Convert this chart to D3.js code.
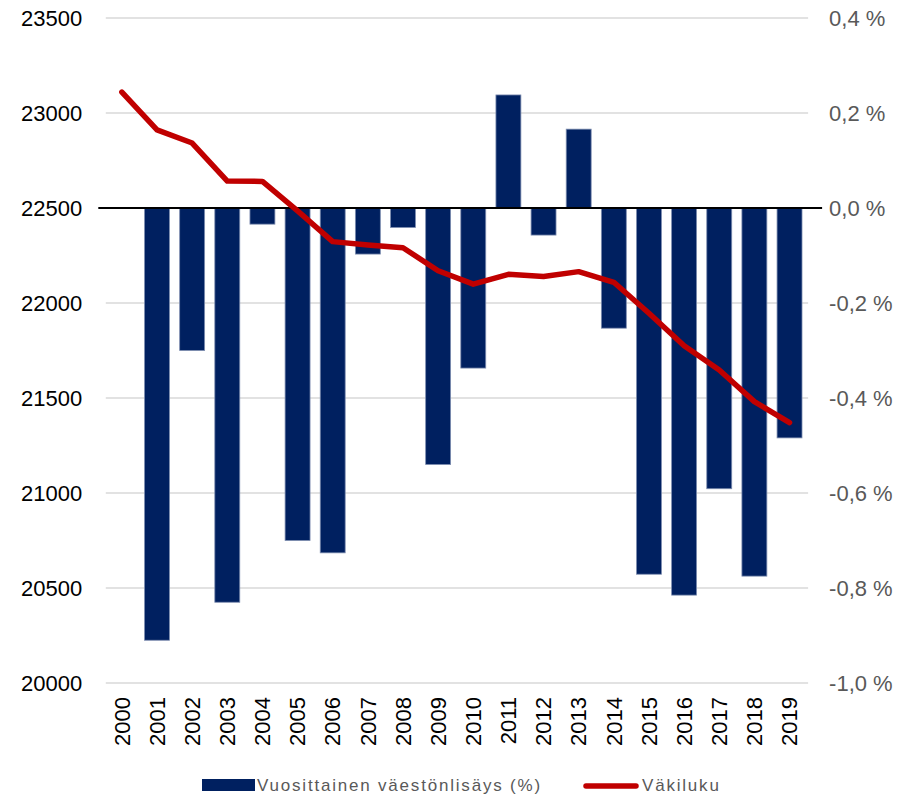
<!DOCTYPE html>
<html>
<head>
<meta charset="utf-8">
<script src="https://cdn.jsdelivr.net/npm/d3@7"></script>
<style>
  body { margin: 0; background: #fff; }
  svg { display: block; }
  text { font-family: "Liberation Sans", Arial, sans-serif; }
</style>
</head>
<body>
<div id="chart"></div>
<script>
// data
const years = ["2000", "2001", "2002", "2003", "2004", "2005", "2006", "2007", "2008", "2009",
               "2010", "2011", "2012", "2013", "2014", "2015", "2016", "2017", "2018", "2019"];
const growth = [null, -0.91, -0.30, -0.83, -0.034, -0.70, -0.726, -0.097, -0.041, -0.54,
                -0.337, 0.238, -0.057, 0.166, -0.253, -0.771, -0.815, -0.591, -0.775, -0.484];
const population = [23110, 22911, 22842, 22642, 22640, 22485, 22323, 22305, 22291, 22170,
                    22099, 22151, 22139, 22165, 22109, 21946, 21775, 21647, 21481, 21370];
const leftTicks = [20000, 20500, 21000, 21500, 22000, 22500, 23000, 23500];
const rightTicks = [-1.0, -0.8, -0.6, -0.4, -0.2, 0.0, 0.2, 0.4];
const barLabel = "Vuosittainen väestönlisäys (%)";
const lineLabel = "Väkiluku";

const width = 902, height = 796;
const plotLeft = 104.3, plotRight = 807.1, plotTop = 18, plotBottom = 683;

const svg = d3.select("#chart")
    .append("svg")
    .attr("width", width)
    .attr("height", height);

const x = d3.scaleBand()
    .domain(years)
    .range([plotLeft, plotRight])
    .paddingInner(0.29)
    .paddingOuter(0.145);

const yL = d3.scaleLinear().domain([20000, 23500]).range([plotBottom, plotTop]);
const yR = d3.scaleLinear().domain([-1.0, 0.4]).range([plotBottom, plotTop]);

// gridlines
svg.append("g")
    .selectAll("line")
    .data(rightTicks.filter(d => d !== 0))
    .enter()
    .append("line")
    .attr("x1", plotLeft + 1.5)
    .attr("x2", plotRight + 1)
    .attr("y1", d => yR(d))
    .attr("y2", d => yR(d))
    .attr("stroke", "#d9d9d9")
    .attr("stroke-width", 1.5);

// left axis
const axL = svg.append("g")
    .attr("transform", `translate(${plotLeft - 22},0)`)
    .call(d3.axisLeft(yL).tickValues(leftTicks).tickSize(0).tickPadding(0).tickFormat(d3.format("d")));
axL.select(".domain").remove();
axL.selectAll("text")
    .attr("font-size", 22)
    .attr("fill", "#000")
    .style("font-family", "Liberation Sans, Arial, sans-serif");

// right axis
const axR = svg.append("g")
    .attr("transform", `translate(${plotRight + 22},0)`)
    .call(d3.axisRight(yR).tickValues(rightTicks).tickSize(0).tickPadding(0)
        .tickFormat(d => d3.format(".1f")(d).replace("−", "-").replace(".", ",") + " %"));
axR.select(".domain").remove();
axR.selectAll("text")
    .attr("font-size", 22)
    .attr("fill", "#595959")
    .style("font-family", "Liberation Sans, Arial, sans-serif");

// bars
svg.append("g")
    .selectAll("rect")
    .data(years.map((y, i) => ({ year: y, value: growth[i] })).filter(d => d.value !== null))
    .enter()
    .append("rect")
    .attr("x", d => x(d.year))
    .attr("y", d => yR(Math.max(0, d.value)))
    .attr("width", x.bandwidth())
    .attr("height", d => Math.abs(yR(d.value) - yR(0)))
    .attr("fill", "#002060")
    .attr("stroke", "#7d8db0")
    .attr("stroke-width", 0.8);

// zero line
svg.append("line")
    .attr("x1", plotLeft - 6)
    .attr("x2", plotRight + 15)
    .attr("y1", yR(0))
    .attr("y2", yR(0))
    .attr("stroke", "#000")
    .attr("stroke-width", 2);

// population line
const line = d3.line()
    .x((d, i) => x(years[i]) + x.bandwidth() / 2)
    .y(d => yL(d));

svg.append("path")
    .datum(population)
    .attr("fill", "none")
    .attr("stroke", "#c00000")
    .attr("stroke-width", 5.5)
    .attr("stroke-linejoin", "round")
    .attr("stroke-linecap", "round")
    .attr("d", line);

// x labels (rotated)
svg.append("g")
    .selectAll("text")
    .data(years)
    .enter()
    .append("text")
    .attr("transform", d => `translate(${x(d) + x.bandwidth() / 2},697) rotate(-90)`)
    .attr("dy", "0.35em")
    .attr("text-anchor", "end")
    .attr("font-size", 22)
    .attr("fill", "#000")
    .text(d => d);

// legend
const leg = svg.append("g");
leg.append("rect")
    .attr("x", 202).attr("y", 779)
    .attr("width", 53).attr("height", 12)
    .attr("fill", "#002060");
leg.append("text")
    .attr("x", 257).attr("y", 791)
    .attr("font-size", 17)
    .attr("letter-spacing", "1.8px")
    .attr("fill", "#595959")
    .text(barLabel);
leg.append("line")
    .attr("x1", 586).attr("x2", 636)
    .attr("y1", 786).attr("y2", 786)
    .attr("stroke", "#c00000")
    .attr("stroke-width", 5.5)
    .attr("stroke-linecap", "round");
leg.append("text")
    .attr("x", 642).attr("y", 791)
    .attr("font-size", 17)
    .attr("letter-spacing", "1.8px")
    .attr("fill", "#595959")
    .text(lineLabel);
</script>
</body>
</html>
